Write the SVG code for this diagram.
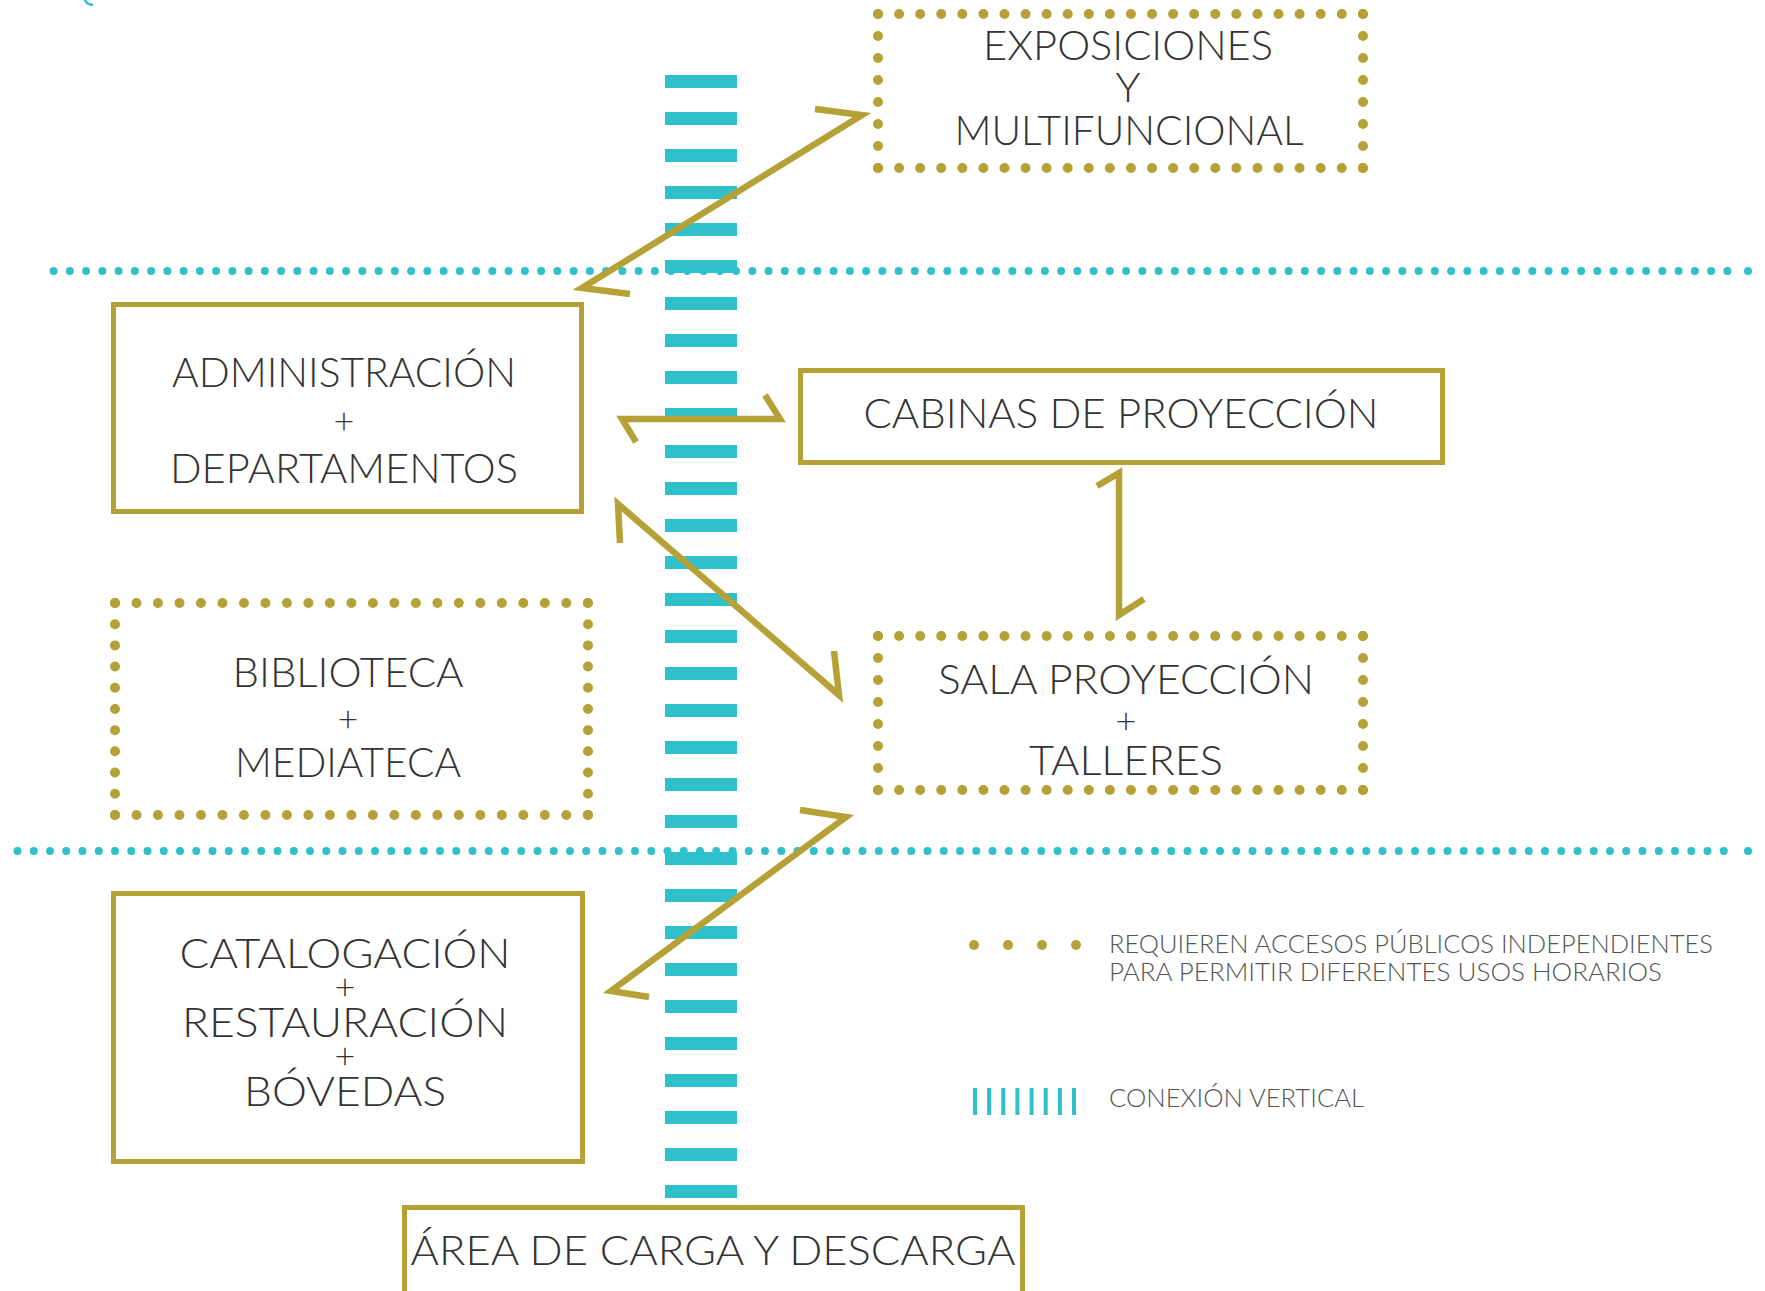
<svg xmlns="http://www.w3.org/2000/svg" width="1765" height="1291" viewBox="0 0 1765 1291">
<style>
.t{font-family:Lato,"Liberation Sans",sans-serif;font-weight:300;font-size:42px;fill:#333;text-anchor:middle}
.p{font-family:Lato,"Liberation Sans",sans-serif;font-weight:300;font-size:36px;fill:#333;text-anchor:middle}
.lg{font-family:Lato,"Liberation Sans",sans-serif;font-weight:300;font-size:26px;fill:#555}
.box{fill:none;stroke:#b5a136;stroke-width:5}
.gd{stroke:#b5a136;stroke-width:10;stroke-linecap:round;fill:none}
.cd{stroke:#30c0cb;stroke-width:8;stroke-linecap:round;stroke-dasharray:0 16.25;fill:none}
.arr{fill:none;stroke:#b5a136;stroke-width:6.5;stroke-linejoin:miter;stroke-miterlimit:6;stroke-linecap:butt}
</style>
<rect width="1765" height="1291" fill="#fff"/>
<path d="M85 0 Q86 4 93 5" fill="none" stroke="#30c0cb" stroke-width="2.5"/>
<g id="levels">
<line class="cd" x1="53.6" y1="271" x2="1729" y2="271"/>
<circle cx="1748" cy="271" r="4" fill="#30c0cb"/>
<line class="cd" x1="17.5" y1="851" x2="1729" y2="851"/>
<circle cx="1748" cy="851" r="4" fill="#30c0cb"/>
</g>
<g id="vertical-connection">
<line x1="701" y1="75" x2="701" y2="1198" stroke="#30c0cb" stroke-width="72" stroke-dasharray="13 24"/>
</g>
<g id="exposiciones">
<line class="gd" x1="878" y1="14" x2="1363" y2="14" stroke-dasharray="0 21.08"/>
<line class="gd" x1="878" y1="168" x2="1363" y2="168" stroke-dasharray="0 21.08"/>
<line class="gd" x1="878" y1="14" x2="878" y2="168" stroke-dasharray="0 21.99"/>
<line class="gd" x1="1363" y1="14" x2="1363" y2="168" stroke-dasharray="0 21.99"/>
<text class="t" x="1128" y="60" textLength="290" lengthAdjust="spacingAndGlyphs">EXPOSICIONES</text>
<text class="t" x="1128" y="102">Y</text>
<text class="t" x="1129" y="145" textLength="349" lengthAdjust="spacingAndGlyphs">MULTIFUNCIONAL</text>
</g>
<g id="administracion">
<rect class="box" x="113.5" y="304.5" width="468" height="207"/>
<text class="t" x="344" y="387" textLength="344" lengthAdjust="spacingAndGlyphs">ADMINISTRACIÓN</text>
<text class="p" x="344" y="434">+</text>
<text class="t" x="344" y="483" textLength="348" lengthAdjust="spacingAndGlyphs">DEPARTAMENTOS</text>
</g>
<g id="cabinas">
<rect class="box" x="800.5" y="370.5" width="642" height="92"/>
<text class="t" x="1121" y="428" textLength="515" lengthAdjust="spacingAndGlyphs">CABINAS DE PROYECCIÓN</text>
</g>
<g id="biblioteca">
<line class="gd" x1="115" y1="603" x2="588" y2="603" stroke-dasharray="0 21.49"/>
<line class="gd" x1="115" y1="815" x2="588" y2="815" stroke-dasharray="0 21.49"/>
<line class="gd" x1="115" y1="603" x2="115" y2="815" stroke-dasharray="0 21.19"/>
<line class="gd" x1="588" y1="603" x2="588" y2="815" stroke-dasharray="0 21.19"/>
<text class="t" x="348" y="687" textLength="231" lengthAdjust="spacingAndGlyphs">BIBLIOTECA</text>
<text class="p" x="348" y="732">+</text>
<text class="t" x="348" y="777" textLength="226" lengthAdjust="spacingAndGlyphs">MEDIATECA</text>
</g>
<g id="sala">
<line class="gd" x1="878" y1="636" x2="1363" y2="636" stroke-dasharray="0 21.08"/>
<line class="gd" x1="878" y1="790" x2="1363" y2="790" stroke-dasharray="0 21.08"/>
<line class="gd" x1="878" y1="636" x2="878" y2="790" stroke-dasharray="0 21.99"/>
<line class="gd" x1="1363" y1="636" x2="1363" y2="790" stroke-dasharray="0 21.99"/>
<text class="t" x="1126" y="694" textLength="376" lengthAdjust="spacingAndGlyphs">SALA PROYECCIÓN</text>
<text class="p" x="1126" y="734">+</text>
<text class="t" x="1126" y="775" textLength="194" lengthAdjust="spacingAndGlyphs">TALLERES</text>
</g>
<g id="catalogacion">
<rect class="box" x="113.5" y="893.5" width="469" height="268"/>
<text class="t" x="345" y="968" textLength="331" lengthAdjust="spacingAndGlyphs">CATALOGACIÓN</text>
<text class="p" x="345" y="1000">+</text>
<text class="t" x="345" y="1037" textLength="326" lengthAdjust="spacingAndGlyphs">RESTAURACIÓN</text>
<text class="p" x="345" y="1069">+</text>
<text class="t" x="345" y="1106" textLength="202" lengthAdjust="spacingAndGlyphs">BÓVEDAS</text>
</g>
<g id="area-carga">
<rect class="box" x="404.5" y="1207.5" width="618" height="100"/>
<text class="t" x="713" y="1265" textLength="605" lengthAdjust="spacingAndGlyphs">ÁREA DE CARGA Y DESCARGA</text>
</g>
<g id="connectors">
<polyline class="arr" points="630,294 582,288 862,115 815,109"/>
<polyline class="arr" points="636,442 622,419 780,419 765,395"/>
<polyline class="arr" points="620,543 618,504 839,695 834,651"/>
<polyline class="arr" points="1097,486 1119,473 1119,615 1144,599"/>
<polyline class="arr" points="649,997 611,991 846,817 800,810"/>
</g>
<g id="legend">
<circle cx="974" cy="945" r="5" fill="#b5a136"/>
<circle cx="1008" cy="945" r="5" fill="#b5a136"/>
<circle cx="1042" cy="945" r="5" fill="#b5a136"/>
<circle cx="1076" cy="945" r="5" fill="#b5a136"/>
<text class="lg" x="1109" y="953" textLength="604" lengthAdjust="spacingAndGlyphs">REQUIEREN ACCESOS PÚBLICOS INDEPENDIENTES</text>
<text class="lg" x="1109" y="981" textLength="553" lengthAdjust="spacingAndGlyphs">PARA PERMITIR DIFERENTES USOS HORARIOS</text>
<path d="M975 1088V1115M989.1 1088V1115M1003.3 1088V1115M1017.4 1088V1115M1031.6 1088V1115M1045.7 1088V1115M1059.9 1088V1115M1074 1088V1115" stroke="#30c0cb" stroke-width="4"/>
<text class="lg" x="1109" y="1107" textLength="255" lengthAdjust="spacingAndGlyphs">CONEXIÓN VERTICAL</text>
</g>
</svg>
